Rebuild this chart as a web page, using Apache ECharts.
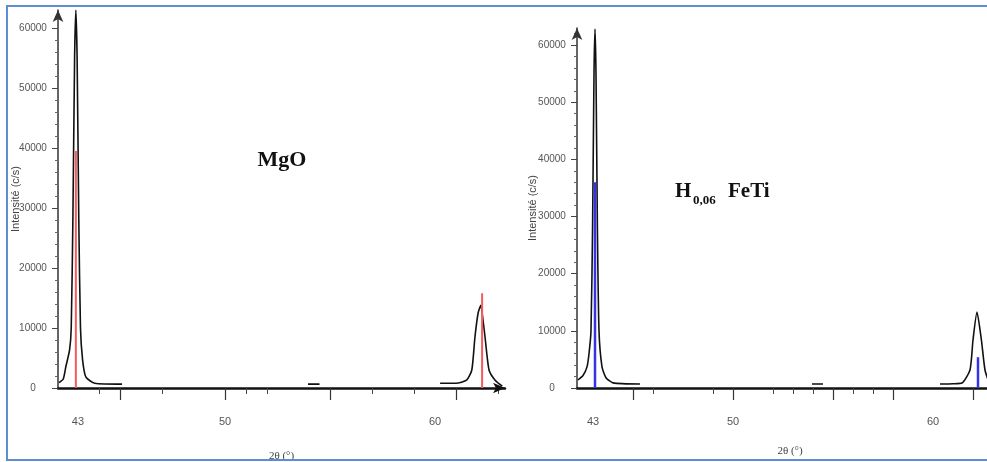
<!DOCTYPE html>
<html>
<head>
<meta charset="utf-8">
<script src="https://cdn.jsdelivr.net/npm/echarts@6/dist/echarts.min.js"></script>
<style>
html,body{margin:0;padding:0;background:#fff;}
#chart{width:987px;height:462px;}
</style>
</head>
<body>
<div id="chart"></div>
<script>
// ---- Data ----
// MgO diffractogram (2θ in degrees, intensity in c/s); null = no trace drawn
const mgoTheta = [42.1, 42.3, 42.42, 42.6, 42.68, 42.76, 42.84, 42.9, 42.96, 43.04, 43.12, 43.22, 43.38, 43.8, 45.1,
                  49.0,
                  53.95, 54.5,
                  57.0,
                  60.24, 61.0, 61.5, 61.75, 61.9, 62.05, 62.18, 62.26, 62.38, 62.57, 62.86, 63.2];
const mgoIntensity = [900, 1500, 3500, 6300, 10000, 28500, 55000, 63000, 55000, 28000, 10000, 4700, 1800, 800, 650,
                      null,
                      650, 650,
                      null,
                      800, 800, 1300, 3000, 8500, 12500, 13800, 12000, 8500, 3000, 1300, 300];
const mgoRefTheta = [42.9, 62.24];
const mgoRefIntensity = [39500, 15800];

// H0,06 FeTi diffractogram
const fetiTheta = [42.25, 42.5, 42.7, 42.8, 42.9, 42.98, 43.05, 43.1, 43.15, 43.22, 43.3, 43.45, 43.65, 44.0, 45.35,
                   49.0,
                   53.95, 54.5,
                   57.0,
                   60.35, 61.0, 61.45, 61.85, 62.0, 62.2, 62.42, 62.6, 62.8, 63.2];
const fetiIntensity = [1400, 2200, 3700, 6000, 10000, 28500, 55000, 62800, 55000, 28000, 10000, 3700, 1800, 900, 700,
                       null,
                       700, 700,
                       null,
                       700, 750, 870, 3150, 8400, 13300, 8400, 3150, 1200, 600];
const fetiRefTheta = [43.1, 62.25];
const fetiRefIntensity = [36000, 5400];

// Axis ticks and labels
const xLabelValues = [43, 50, 60];
const yLabelValues = [0, 10000, 20000, 30000, 40000, 50000, 60000];
const mgoMajorTicks = [45, 50, 55, 61];
const mgoMinorTicks = [44, 47, 51, 52, 57, 59, 63];
const fetiMajorTicks = [45, 50, 55, 58, 62];
const fetiMinorTicks = [46, 49, 52, 53, 54, 56, 57];

// ---- Helpers ----
function pairs(xs, ys) {
  return xs.map((x, i) => [x, ys[i] == null ? '-' : ys[i]]);
}
function sticks(xs, ys) {
  const out = [];
  xs.forEach((x, i) => { out.push([x, 0]); out.push([x, ys[i]]); out.push([x, '-']); });
  return out;
}

const labelFont = 'Liberation Sans Narrow, Liberation Sans, Arial, sans-serif';
const serif = 'Liberation Serif, Times New Roman, serif';

function mainX(gridIndex, min, max, majors, nameGap) {
  return {
    type: 'value', gridIndex: gridIndex, position: 'bottom', min: min, max: max,
    name: '2θ (°)', nameLocation: 'middle', nameGap: nameGap, nameMoveOverlap: false,
    nameTextStyle: { fontFamily: serif, fontSize: 11, color: '#444' },
    axisLine: { show: true, onZero: false, symbol: ['none', 'arrow'], symbolSize: [8, 12], lineStyle: { color: '#111', width: 2.5 } },
    axisTick: { show: true, customValues: majors, length: 12, lineStyle: { color: '#333', width: 1.2 } },
    axisLabel: { customValues: xLabelValues, margin: 28, fontSize: 11, color: '#555', fontFamily: labelFont },
    splitLine: { show: false }
  };
}
function minorX(gridIndex, min, max, minors) {
  return {
    type: 'value', gridIndex: gridIndex, position: 'bottom', min: min, max: max,
    axisLine: { show: false },
    axisTick: { show: true, customValues: minors, length: 6, lineStyle: { color: '#444', width: 1 } },
    axisLabel: { show: false },
    splitLine: { show: false }
  };
}
function yAx(gridIndex, nameGap) {
  return {
    type: 'value', gridIndex: gridIndex, min: 0, max: 63000, interval: 10000,
    name: 'Intensité (c/s)', nameLocation: 'middle', nameGap: nameGap, nameMoveOverlap: false,
    nameTextStyle: { fontFamily: labelFont, fontSize: 11, color: '#444' },
    axisLine: { show: true, symbol: ['none', 'arrow'], symbolSize: [8, 12], lineStyle: { color: '#333', width: 1.5 } },
    axisTick: { show: true, customValues: yLabelValues, length: 6, lineStyle: { color: '#444' } },
    minorTick: { show: true, splitNumber: 5, length: 3, lineStyle: { color: '#666' } },
    axisLabel: {
      customValues: yLabelValues, align: 'center', margin: 25, fontSize: 10, color: '#555', fontFamily: labelFont,
      formatter: v => String(v)
    },
    splitLine: { show: false }
  };
}

const chart = echarts.init(document.getElementById('chart'), null, { renderer: 'canvas' });
chart.setOption({
  animation: false,
  backgroundColor: '#ffffff',
  grid: [
    { left: 58, right: 482, top: 10, bottom: 74, containLabel: false, outerBoundsMode: 'none' },
    { left: 577, right: -16, top: 28, bottom: 74, containLabel: false, outerBoundsMode: 'none' }
  ],
  xAxis: [
    mainX(0, 42.05, 63.33, mgoMajorTicks, 63),
    minorX(0, 42.05, 63.33, mgoMinorTicks),
    mainX(1, 42.2, 63.5, fetiMajorTicks, 58),
    minorX(1, 42.2, 63.5, fetiMinorTicks)
  ],
  yAxis: [ yAx(0, 37), yAx(1, 39) ],
  series: [
    { type: 'line', xAxisIndex: 0, yAxisIndex: 0, data: pairs(mgoTheta, mgoIntensity), showSymbol: false, symbol: 'none',
      smooth: 0.2, connectNulls: false, lineStyle: { color: '#111', width: 1.6 }, z: 3 },
    { type: 'line', xAxisIndex: 0, yAxisIndex: 0, data: sticks(mgoRefTheta, mgoRefIntensity), showSymbol: false, symbol: 'none',
      connectNulls: false, lineStyle: { color: '#f25c5c', width: 2 }, z: 4 },
    { type: 'line', xAxisIndex: 2, yAxisIndex: 1, data: pairs(fetiTheta, fetiIntensity), showSymbol: false, symbol: 'none',
      smooth: 0.2, connectNulls: false, lineStyle: { color: '#111', width: 1.6 }, z: 3 },
    { type: 'line', xAxisIndex: 2, yAxisIndex: 1, data: sticks(fetiRefTheta, fetiRefIntensity), showSymbol: false, symbol: 'none',
      connectNulls: false, lineStyle: { color: '#3434e6', width: 2.5 }, z: 4 }
  ],
  graphic: [
    { type: 'rect', shape: { x: 7, y: 6, width: 1000, height: 454 }, style: { fill: 'none', stroke: '#5b8fd0', lineWidth: 2 }, silent: true, z: 100 },
    { type: 'text', x: 282, y: 160, style: { text: 'MgO', font: 'bold 22px ' + serif, fill: '#111', textAlign: 'center', textVerticalAlign: 'middle' } },
    { type: 'text', x: 675, y: 192, style: { text: 'H', font: 'bold 21px ' + serif, fill: '#111', textAlign: 'left', textVerticalAlign: 'middle' } },
    { type: 'text', x: 693, y: 201, style: { text: '0,06', font: 'bold 13px ' + serif, fill: '#111', textAlign: 'left', textVerticalAlign: 'middle' } },
    { type: 'text', x: 728, y: 192, style: { text: 'FeTi', font: 'bold 21px ' + serif, fill: '#111', textAlign: 'left', textVerticalAlign: 'middle' } }
  ]
});
</script>
</body>
</html>
